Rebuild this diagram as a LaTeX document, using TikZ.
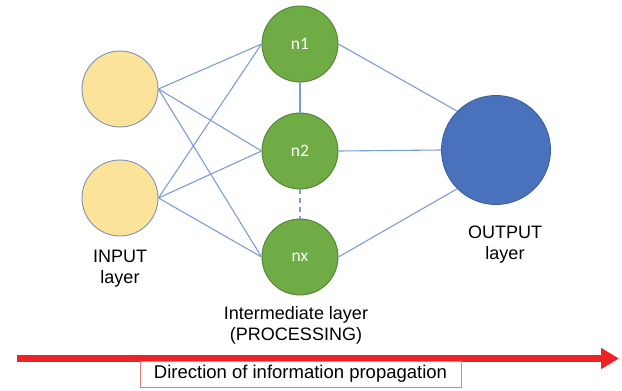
\documentclass[tikz,border=0pt]{standalone}
\usepackage{fontspec}
\setmainfont{Liberation Sans}
\newfontfamily\neuronfont{Carlito}
\usetikzlibrary{arrows.meta}

\definecolor{inputfill}{HTML}{FBE49A}
\definecolor{inputedge}{HTML}{7D92B8}
\definecolor{hiddenfill}{HTML}{6FAC46}
\definecolor{hiddenedge}{HTML}{538135}
\definecolor{outfill}{HTML}{4A72BC}
\definecolor{outedge}{HTML}{3A5E9E}
\definecolor{linkblue}{HTML}{7A9DD8}
\definecolor{arrowred}{HTML}{EE2127}
\definecolor{boxred}{HTML}{F07A7A}

\begin{document}
\begin{tikzpicture}[x=1pt,y=-1pt,
  inneuron/.style={circle,minimum size=76pt,inner sep=0pt,fill=inputfill,draw=inputedge,line width=0.9pt},
  hidneuron/.style={circle,minimum size=76pt,inner sep=0pt,fill=hiddenfill,draw=hiddenedge,line width=0.9pt,
    text=white,font=\neuronfont\fontsize{17.5}{19}\selectfont},
  outneuron/.style={circle,minimum size=109pt,inner sep=0pt,fill=outfill,draw=outedge,line width=0.9pt},
  link/.style={draw=linkblue,line width=1.1pt},
  caption/.style={align=center,inner sep=0pt,font=\fontsize{18}{21}\selectfont}
]
\useasboundingbox (0,0) rectangle (622,391);

% neurons
\node[inneuron] (i1) at (120,89) {};
\node[inneuron] (i2) at (120,198) {};
\node[hidneuron] (h1) at (300,44) {n1};
\node[hidneuron] (h2) at (300,151) {n2};
\node[hidneuron] (hx) at (300,257) {nx};
\node[outneuron] (out) at (496,150) {};

% connections input -> intermediate
\foreach \s in {i1,i2}
  \foreach \t in {h1,h2,hx}
    \draw[link] (\s.east) -- (\t.west);

% links inside the intermediate layer
\draw[link] (h1.south) -- (h2.north);
\draw[link,line width=1.6pt,dash pattern=on 5pt off 4pt] (h2.south) -- (hx.north);

% connections intermediate -> output
\draw[link] (h1.east) -- (out.north west);
\draw[link] (h2.east) -- (out.west);
\draw[link] (hx.east) -- (out.south west);

% layer captions
\node[caption] (lin) at (120,269) {INPUT\\layer};
\node[caption] (lout) at (505,245) {OUTPUT\\layer};
\node[caption] (lmid) at (296,325) {Intermediate layer\\(PROCESSING)};

% propagation arrow
\coordinate (arrS) at (17,358.5);
\coordinate (arrE) at (619,358.5);
\draw[arrowred,line width=7pt,-{Triangle[length=18pt,width=20pt]}] (arrS) -- (arrE);
\node[draw=boxred,line width=0.9pt,fill=white,minimum width=321pt,minimum height=26pt,inner sep=0pt,
  font=\fontsize{18.5}{20}\selectfont] (dir) at (300.5,374) {Direction of information propagation};
\end{tikzpicture}
\end{document}
